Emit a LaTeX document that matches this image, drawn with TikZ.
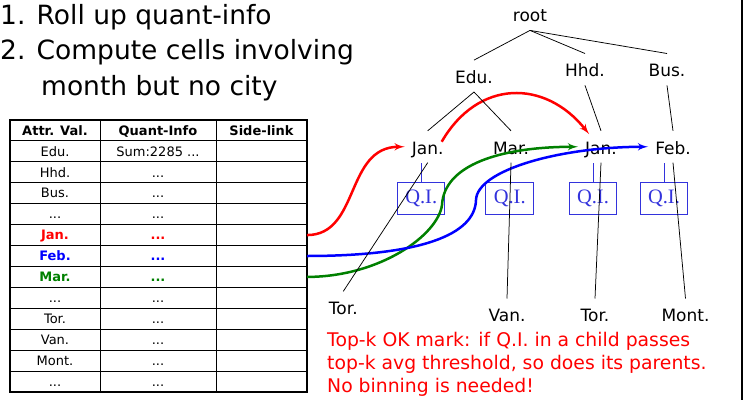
\documentclass[tikz,border=0pt]{standalone}
\usepackage{xcolor}
\usepackage{fontspec}
\setmainfont{DejaVu Sans}
\newfontfamily\qifont{Liberation Serif}
\usepackage{tikz}
\usetikzlibrary{shapes,arrows,positioning}
\definecolor{qiblue}{RGB}{51, 51, 220}
\definecolor{mgreen}{RGB}{0, 128, 0}
\newcommand{\ellip}{...}
\tikzstyle{title} = [anchor=base west, inner sep=0pt, font=\fontsize{26.5}{30}\selectfont]
\tikzstyle{level} = [anchor=base, text height=18pt, text depth=3.5pt, inner xsep=7pt, inner ysep=5pt, font=\fontsize{17}{20}\selectfont]
\tikzstyle{qinfo} = [rectangle, draw=qiblue, text=qiblue, line width=1pt, minimum width=47.5pt, minimum height=32pt, inner sep=0pt, font=\qifont\fontsize{20.5}{22}\selectfont]
\tikzstyle{cell} = [anchor=base, inner sep=0pt, font=\fontsize{13}{15}\selectfont]
\tikzstyle{head} = [cell, font=\fontsize{13}{15}\selectfont\bfseries]
\tikzstyle{janrow} = [head, text=red]
\tikzstyle{febrow} = [head, text=blue]
\tikzstyle{marrow} = [head, text=mgreen]
\tikzstyle{note} = [anchor=base west, inner sep=0pt, text=red, font=\fontsize{18.8}{22}\selectfont]
\tikzstyle{branch} = [draw, line width=0.75pt]
\tikzstyle{link} = [draw, line width=2.5pt, -latex']

\begin{document}
\begin{tikzpicture}[x=1pt, y=-1pt]
    \useasboundingbox (0,0) rectangle (745,400);
    \draw [line width=2pt] (742,0) -- (742,400);

    % steps
    \node [title] (stepone) at (0,24) {1. Roll up quant-info};
    \node [title] (steptwo) at (0,59.5) {2. Compute cells involving};
    \node [title] (steptwob) at (41,95) {month but no city};

    % attribute table
    \foreach \k in {1,...,12}
        \draw [line width=1pt] (10,{120+\k*20.923}) -- (307,{120+\k*20.923});
    \draw [line width=1pt] (100,120) -- (100,392);
    \draw [line width=1pt] (216,120) -- (216,392);
    \draw [line width=2pt] (10,120) rectangle (307,392);
    \node [head] (hattr) at (55,{120+0.5*20.923+4.7}) {Attr. Val.};
    \node [head] (hquant) at (158,{120+0.5*20.923+4.7}) {Quant-Info};
    \node [head] (hlink) at (261.5,{120+0.5*20.923+4.7}) {Side-link};
    \foreach \i/\attr/\quant/\look in {1/Edu./Sum:2285 \ellip/cell, 2/Hhd./\ellip/cell,
        3/Bus./\ellip/cell, 4/\ellip/\ellip/cell, 5/Jan./\ellip/janrow, 6/Feb./\ellip/febrow,
        7/Mar./\ellip/marrow, 8/\ellip/\ellip/cell, 9/Tor./\ellip/cell, 10/Van./\ellip/cell,
        11/Mont./\ellip/cell, 12/\ellip/\ellip/cell} {
        \node [\look] (attr\i) at (55,{120+(\i+0.5)*20.923+4.7}) {\attr};
        \node [\look] (quant\i) at (158,{120+(\i+0.5)*20.923+4.7}) {\quant};
    }
    \coordinate (linkjan) at (307,{120+5.5*20.923});
    \coordinate (linkfeb) at (307,{120+6.5*20.923});
    \coordinate (linkmar) at (307,{120+7.5*20.923});

    % tree
    \node [level] (root) at (530,21.7) {root};
    \node [level] (edu) at (474,83.3) {Edu.};
    \node [level] (hhd) at (585,76.7) {Hhd.};
    \node [level] (bus) at (667,76.7) {Bus.};
    \node [level] (jan) at (427.7,154) {Jan.};
    \node [level] (mar) at (511,154) {Mar.};
    \node [level] (jantwo) at (601,154) {Jan.};
    \node [level] (feb) at (673,154) {Feb.};
    \node [level] (tor) at (343.3,314.5) {Tor.};
    \node [level] (van) at (507,321.7) {Van.};
    \node [level] (tortwo) at (595,321.7) {Tor.};
    \node [level] (mont) at (685.5,321.7) {Mont.};

    \node [qinfo] (qijan) at (421.2,198.8) {Q.I.};
    \node [qinfo] (qimar) at (509.7,198.8) {Q.I.};
    \node [qinfo] (qijantwo) at (593,198.8) {Q.I.};
    \node [qinfo] (qifeb) at (664,198.8) {Q.I.};
    \draw [qiblue, line width=1pt] (qijan.north) -- (qijan.north |- jan.south);
    \draw [qiblue, line width=1pt] (qijantwo.north) -- (qijantwo.north |- jantwo.south);
    \draw [qiblue, line width=1pt] (qifeb.north) -- (qifeb.north |- feb.south);

    % side-links
    \path [link, red] (linkjan) .. controls (360,235) and (345,147) .. (jan.west);
    \path [link, red] ([shift={(14,-5)}]jan.center) .. controls (478,79) and (545,79) .. ([shift={(-12,-12.75)}]jantwo.center);
    \path [link, mgreen] (linkmar) .. controls (380,276.8) and (438,235) .. (442,205)
        .. controls (444,165) and (500,147) .. (jantwo.west);
    \path [link, blue] (linkfeb) .. controls (420,255.9) and (475,235) .. (476,200)
        .. controls (477,170) and (560,147) .. (feb.west);

    \path [branch] (root.south) -- (edu.north);
    \path [branch] (root.south) -- (hhd.north);
    \path [branch] (root.south) -- (bus.north);
    \path [branch] (edu.south) -- (jan.north);
    \path [branch] (edu.south) -- (mar.north);
    \path [branch] (hhd.south) -- (jantwo.north);
    \path [branch] (bus.south) -- (feb.north);
    \path [branch] (jan.south) -- (tor.north);
    \path [branch] (mar.south) -- (van.north);
    \path [branch] (jantwo.south) -- (tortwo.north);
    \path [branch] (feb.south) -- (mont.north);

    % remark
    \node [note] (notea) at (327,346.5) {Top-k OK mark: if Q.I. in a child passes};
    \node [note] (noteb) at (327,369.5) {top-k avg threshold, so does its parents.};
    \node [note] (notec) at (327,392.5) {No binning is needed!};
\end{tikzpicture}
\end{document}
